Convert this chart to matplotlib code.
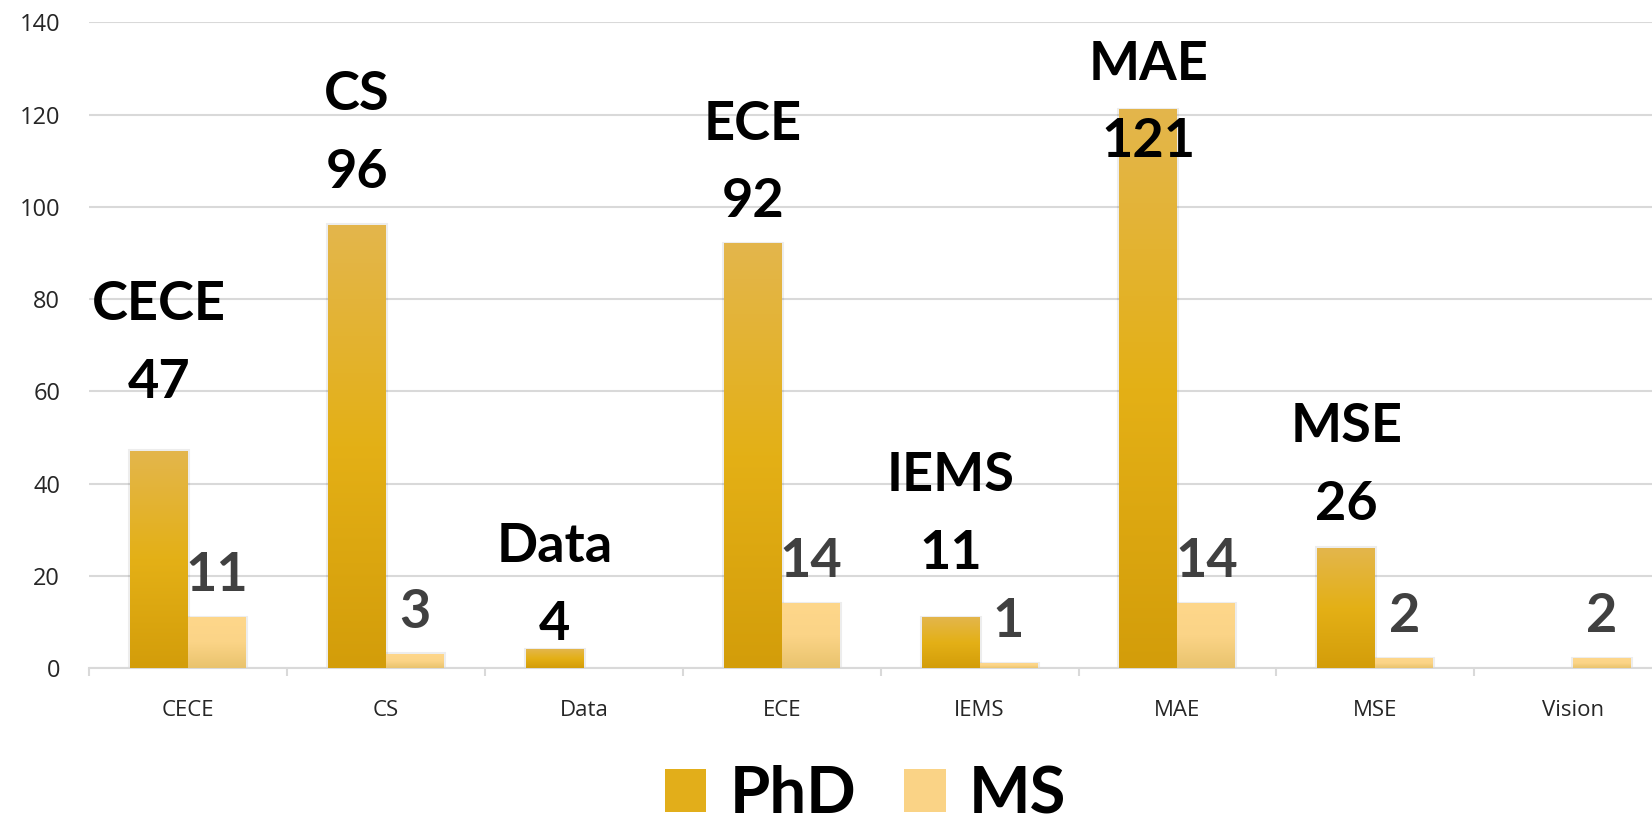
import numpy as np
import matplotlib
matplotlib.use('Agg')
import matplotlib.pyplot as plt
from matplotlib.colors import LinearSegmentedColormap
from matplotlib.patches import Patch
from matplotlib.ticker import MultipleLocator, FixedLocator

categories = ['CECE', 'CS', 'Data', 'ECE', 'IEMS', 'MAE', 'MSE', 'Vision']
phd = [47, 96, 4, 92, 11, 121, 26, 0]
ms = [11, 3, 0, 14, 1, 14, 2, 2]
# how far (in data units) each PhD label sits above its bar, as placed in the original
phd_label_lift = [11.6, 8.1, 2.1, 5.7, 10.5, -10.3, 6.1, 0]

phd_cmap = LinearSegmentedColormap.from_list('phd', ['#D39D0A', '#E4B016', '#E3B64C'])
ms_cmap = LinearSegmentedColormap.from_list('ms', ['#E9C36D', '#FBD487', '#FED78B'])
grad = np.linspace(0, 1, 256).reshape(-1, 1)

fig = plt.figure(figsize=(16.52, 8.24), dpi=100)
ax = fig.add_axes([0.0541, 0.189, 0.958, 0.784])

width = 0.293
x = np.arange(len(categories))


def gradient_bars(xs, heights, cmap):
	for x0, h in zip(xs, heights):
		if h <= 0:
			continue
		# soft outline standing in for the excel shadow
		ax.bar(x0, h, width, align='edge', color='none', edgecolor='#000000',
			linewidth=3, alpha=0.07, zorder=2)
		ax.imshow(grad, cmap=cmap, origin='lower', aspect='auto',
			extent=[x0, x0 + width, 0, h], interpolation='bicubic', zorder=3)


gradient_bars(x - width, phd, phd_cmap)
gradient_bars(x, ms, ms_cmap)

label_font = dict(family='Lato', weight='bold', fontsize=39)
for i, (v, lift) in enumerate(zip(phd, phd_label_lift)):
	if v <= 0:
		continue
	cx = i - width / 2
	ax.annotate(str(v), (cx, v + lift), ha='center', va='baseline',
		color='black', zorder=5, **label_font)
	ax.annotate(categories[i], (cx, v + lift), xytext=(0, 56),
		textcoords='offset points', ha='center', va='baseline',
		color='black', zorder=5, **label_font)

for i, v in enumerate(ms):
	if v <= 0:
		continue
	ax.annotate(str(v), (i + width / 2, v), xytext=(0, 19.3),
		textcoords='offset points', ha='center', va='baseline',
		color='#404040', zorder=5, **label_font)

ax.set_xlim(-0.5, len(categories) - 0.5)
ax.set_ylim(0, 140)
ax.yaxis.set_major_locator(MultipleLocator(20))
ax.grid(axis='y', color='#D9D9D9', linewidth=1.5, zorder=0)
ax.set_axisbelow(True)

for s in ['top', 'right', 'left']:
	ax.spines[s].set_visible(False)
ax.spines['bottom'].set_color('#D9D9D9')
ax.spines['bottom'].set_linewidth(1.5)

ax.set_xticks(x)
ax.set_xticklabels(categories, family='Open Sans', fontsize=16, color='#262626')
ax.xaxis.set_minor_locator(FixedLocator(np.arange(len(categories) + 1) - 0.5))
ax.tick_params(axis='x', which='major', length=0, pad=23)
ax.tick_params(axis='x', which='minor', length=6, width=1.5, color='#D9D9D9')
ax.tick_params(axis='y', length=0, pad=21)
for t in ax.get_yticklabels():
	t.set_family('Open Sans')
	t.set_fontsize(17)
	t.set_color('#262626')

handles = [Patch(facecolor='#E2AE1A', label='PhD'), Patch(facecolor='#FAD386', label='MS')]
fig.legend(handles=handles, loc='lower center', bbox_to_anchor=(0.524, -0.04),
	ncol=2, frameon=False, handlelength=0.63, handleheight=0.63,
	handletextpad=0.36, columnspacing=0.74, borderpad=0,
	prop=dict(family='Lato', weight='bold', size=47))

fig.savefig('out.png', dpi=100)
